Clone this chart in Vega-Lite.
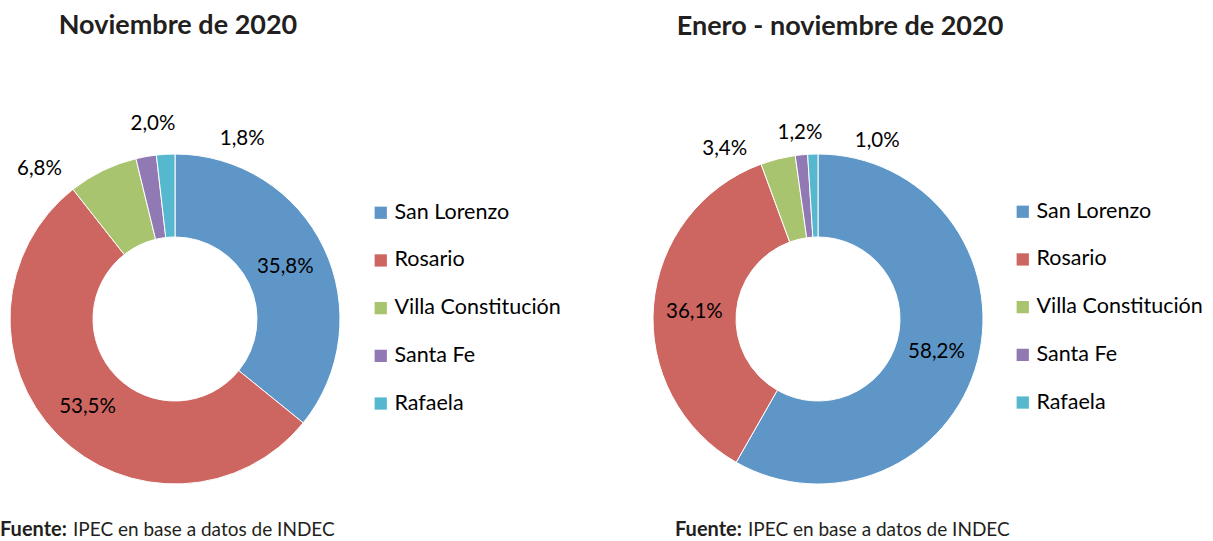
{
  "$schema": "https://vega.github.io/schema/vega-lite/v6.json",
  "background": "white",
  "padding": {"left": 0, "top": 12, "right": 0, "bottom": 0},
  "config": {
    "view": {"stroke": null},
    "font": "Lato",
    "locale": {"number": {"decimal": ",", "thousands": ".", "grouping": [3], "currency": ["$", ""]}}
  },
  "datasets": {
    "nov": [
      {"zona": "San Lorenzo", "pct": 0.358, "ord": 1},
      {"zona": "Rosario", "pct": 0.535, "ord": 2},
      {"zona": "Villa Constitución", "pct": 0.068, "ord": 3},
      {"zona": "Santa Fe", "pct": 0.020, "ord": 4},
      {"zona": "Rafaela", "pct": 0.018, "ord": 5}
    ],
    "ene": [
      {"zona": "San Lorenzo", "pct": 0.582, "ord": 1},
      {"zona": "Rosario", "pct": 0.361, "ord": 2},
      {"zona": "Villa Constitución", "pct": 0.034, "ord": 3},
      {"zona": "Santa Fe", "pct": 0.012, "ord": 4},
      {"zona": "Rafaela", "pct": 0.010, "ord": 5}
    ]
  },
  "spacing": 82,
  "resolve": {"scale": {"color": "independent", "theta": "independent"}, "legend": {"color": "independent"}},
  "hconcat": [
    {
      "resolve": {"scale": {"color": "independent", "theta": "independent"}, "legend": {"color": "independent"}},
      "title": {"text": "IPEC en base a datos de INDEC", "orient": "bottom", "anchor": "start", "frame": "bounds", "dx": 73, "offset": -19, "fontSize": 19, "fontWeight": "normal", "color": "#231F20"},
      "vconcat": [
        {
          "resolve": {"scale": {"color": "independent", "theta": "independent"}, "legend": {"color": "independent"}},
          "title": {"text": "Fuente:", "orient": "bottom", "anchor": "start", "frame": "bounds", "offset": 31, "fontSize": 20, "fontWeight": "bold", "color": "#231F20"},
          "vconcat": [
            {
              "width": 350,
              "height": 340,
              "data": {"name": "nov"},
              "title": {"text": "Noviembre de 2020", "anchor": "middle", "frame": "group", "offset": 72, "dx": 3, "fontSize": 27, "fontWeight": "bold", "color": "#231F20"},
              "encoding": {
                "theta": {"field": "pct", "type": "quantitative", "stack": true},
                "order": {"field": "ord", "type": "quantitative", "sort": "ascending"}
              },
              "layer": [
                {"mark": {"type": "arc", "outerRadius": 165, "innerRadius": 82, "stroke": "white", "strokeWidth": 1},
                 "encoding": {
                   "color": {
                     "field": "zona", "type": "nominal",
                     "scale": {"domain": ["San Lorenzo", "Rosario", "Villa Constitución", "Santa Fe", "Rafaela"], "range": ["#5F96C8", "#CD6560", "#A9C46E", "#9179B3", "#55B8CF"]},
                     "legend": {"orient": "none", "legendX": 370, "legendY": 53, "title": null, "symbolType": "square", "symbolSize": 150, "labelFontSize": 21.5, "labelFont": "Lato", "labelLimit": 400, "rowPadding": 24.7, "labelOffset": 3, "labelColor": "#000", "symbolStrokeWidth": 0, "padding": 0}
                   }
                 }},
                {"mark": {"type": "text", "radius": 120, "fontSize": 20.5, "baseline": "middle", "align": "center", "dx": 2, "dy": 0, "color": "#000"},
                 "encoding": {"text": {"condition": {"test": "datum.zona === 'San Lorenzo'", "field": "pct", "type": "quantitative", "format": ".1%"}, "value": ""}}},
                {"mark": {"type": "text", "radius": 120, "fontSize": 20.5, "baseline": "middle", "align": "center", "dx": -2, "dy": 4, "color": "#000"},
                 "encoding": {"text": {"condition": {"test": "datum.zona === 'Rosario'", "field": "pct", "type": "quantitative", "format": ".1%"}, "value": ""}}},
                {"mark": {"type": "text", "radius": 120, "fontSize": 20.5, "baseline": "middle", "align": "center", "dx": -83, "dy": -42, "color": "#000"},
                 "encoding": {"text": {"condition": {"test": "datum.zona === 'Villa Constitución'", "field": "pct", "type": "quantitative", "format": ".1%"}, "value": ""}}},
                {"mark": {"type": "text", "radius": 120, "fontSize": 20.5, "baseline": "middle", "align": "center", "dx": -1, "dy": -77, "color": "#000"},
                 "encoding": {"text": {"condition": {"test": "datum.zona === 'Santa Fe'", "field": "pct", "type": "quantitative", "format": ".1%"}, "value": ""}}},
                {"mark": {"type": "text", "radius": 120, "fontSize": 20.5, "baseline": "middle", "align": "center", "dx": 74, "dy": -60, "color": "#000"},
                 "encoding": {"text": {"condition": {"test": "datum.zona === 'Rafaela'", "field": "pct", "type": "quantitative", "format": ".1%"}, "value": ""}}}
              ]
            }
          ]
        }
      ]
    },
    {
      "resolve": {"scale": {"color": "independent", "theta": "independent"}, "legend": {"color": "independent"}},
      "title": {"text": "IPEC en base a datos de INDEC", "orient": "bottom", "anchor": "start", "frame": "bounds", "dx": 105, "offset": -19, "fontSize": 19, "fontWeight": "normal", "color": "#231F20"},
      "vconcat": [
        {
          "resolve": {"scale": {"color": "independent", "theta": "independent"}, "legend": {"color": "independent"}},
          "title": {"text": "Fuente:", "orient": "bottom", "anchor": "start", "frame": "bounds", "offset": 31, "dx": 32, "fontSize": 20, "fontWeight": "bold", "color": "#231F20"},
          "vconcat": [
            {
              "width": 350,
              "height": 340,
              "data": {"name": "ene"},
              "title": {"text": "Enero - noviembre de 2020", "anchor": "middle", "frame": "group", "offset": 81, "dx": 22, "fontSize": 27, "fontWeight": "bold", "color": "#231F20"},
              "encoding": {
                "theta": {"field": "pct", "type": "quantitative", "stack": true},
                "order": {"field": "ord", "type": "quantitative", "sort": "ascending"}
              },
              "layer": [
                {"mark": {"type": "arc", "outerRadius": 165, "innerRadius": 82, "stroke": "white", "strokeWidth": 1},
                 "encoding": {
                   "color": {
                     "field": "zona", "type": "nominal",
                     "scale": {"domain": ["San Lorenzo", "Rosario", "Villa Constitución", "Santa Fe", "Rafaela"], "range": ["#5F96C8", "#CD6560", "#A9C46E", "#9179B3", "#55B8CF"]},
                     "legend": {"orient": "none", "legendX": 369, "legendY": 52, "title": null, "symbolType": "square", "symbolSize": 150, "labelFontSize": 21.5, "labelFont": "Lato", "labelLimit": 400, "rowPadding": 24.7, "labelOffset": 3, "labelColor": "#000", "symbolStrokeWidth": 0, "padding": 0}
                   }
                 }},
                {"mark": {"type": "text", "radius": 120, "fontSize": 20.5, "baseline": "middle", "align": "center", "dx": 2.5, "dy": 2, "color": "#000"},
                 "encoding": {"text": {"condition": {"test": "datum.zona === 'San Lorenzo'", "field": "pct", "type": "quantitative", "format": ".1%"}, "value": ""}}},
                {"mark": {"type": "text", "radius": 120, "fontSize": 20.5, "baseline": "middle", "align": "center", "dx": -4, "dy": 2.5, "color": "#000"},
                 "encoding": {"text": {"condition": {"test": "datum.zona === 'Rosario'", "field": "pct", "type": "quantitative", "format": ".1%"}, "value": ""}}},
                {"mark": {"type": "text", "radius": 100, "fontSize": 20.5, "baseline": "middle", "align": "center", "dx": -69, "dy": -72.5, "color": "#000"},
                 "encoding": {"text": {"condition": {"test": "datum.zona === 'Villa Constitución'", "field": "pct", "type": "quantitative", "format": ".1%"}, "value": ""}}},
                {"mark": {"type": "text", "radius": 120, "fontSize": 20.5, "baseline": "middle", "align": "center", "dx": -6, "dy": -67, "color": "#000"},
                 "encoding": {"text": {"condition": {"test": "datum.zona === 'Santa Fe'", "field": "pct", "type": "quantitative", "format": ".1%"}, "value": ""}}},
                {"mark": {"type": "text", "radius": 120, "fontSize": 20.5, "baseline": "middle", "align": "center", "dx": 63, "dy": -58.5, "color": "#000"},
                 "encoding": {"text": {"condition": {"test": "datum.zona === 'Rafaela'", "field": "pct", "type": "quantitative", "format": ".1%"}, "value": ""}}}
              ]
            }
          ]
        }
      ]
    }
  ]
}
